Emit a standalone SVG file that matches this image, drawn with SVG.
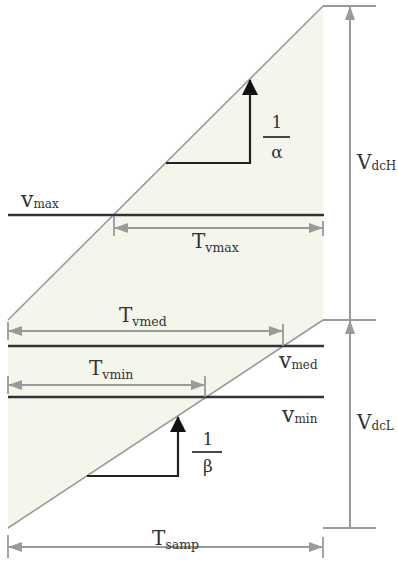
<svg xmlns="http://www.w3.org/2000/svg" width="398" height="561" viewBox="0 0 398 561">
<style>
.fill{fill:#f4f6ec;stroke:none}
.diag{stroke:#9a9a9a;stroke-width:1.6;fill:none}
.lvl{stroke:#333;stroke-width:2.6;fill:none}
.dim{stroke:#9a9a9a;stroke-width:2;fill:none}
.tick{stroke:#9a9a9a;stroke-width:1.8;fill:none}
.slope{stroke:#222;stroke-width:2.2;fill:none}
.fl{stroke:#333;stroke-width:1.8;fill:none}
text{font-family:"DejaVu Serif","Liberation Serif",serif;fill:#333}
.big{font-size:20px}
.vv{font-size:22px}
.sub{font-size:12.5px}
.vsub{font-size:12px}
.frac{font-size:17px}
</style>
<defs>
<marker id="ag" viewBox="0 0 14 10" refX="13" refY="5" markerWidth="14" markerHeight="10" markerUnits="userSpaceOnUse" orient="auto-start-reverse">
<path d="M0,0 L14,5 L0,10 z" fill="#9a9a9a"/>
</marker>
<marker id="ab" viewBox="0 0 16 16" refX="15" refY="8" markerWidth="16" markerHeight="16" markerUnits="userSpaceOnUse" orient="auto">
<path d="M0,0 L16,8 L0,16 z" fill="#111"/>
</marker>
</defs>
<g id="region">
<polygon class="fill" points="8,320 323,6 323,320 8,528"/>
<line class="diag" x1="8" y1="320" x2="323" y2="6"/>
<line class="diag" x1="8" y1="528" x2="323" y2="320"/>
</g>
<g id="levels">
<line class="lvl" x1="8" y1="215" x2="324" y2="215"/>
<line class="lvl" x1="8" y1="346" x2="324" y2="346"/>
<line class="lvl" x1="8" y1="397" x2="324" y2="397"/>
</g>
<g id="connectors">
<line class="tick" x1="114" y1="216" x2="114" y2="236"/>
<line class="tick" x1="323" y1="221" x2="323" y2="236"/>
<line class="dim" x1="115" y1="228" x2="322" y2="228" marker-start="url(#ag)" marker-end="url(#ag)"/>
<line class="tick" x1="8" y1="322" x2="8" y2="340"/>
<line class="tick" x1="283" y1="324" x2="283" y2="346"/>
<line class="dim" x1="9" y1="331" x2="282" y2="331" marker-start="url(#ag)" marker-end="url(#ag)"/>
<line class="tick" x1="8" y1="376" x2="8" y2="394"/>
<line class="tick" x1="205" y1="376" x2="205" y2="397"/>
<line class="dim" x1="9" y1="385" x2="204" y2="385" marker-start="url(#ag)" marker-end="url(#ag)"/>
<line class="tick" x1="8" y1="535" x2="8" y2="558"/>
<line class="tick" x1="323" y1="537" x2="323" y2="558"/>
<line class="dim" x1="9" y1="547" x2="322" y2="547" marker-start="url(#ag)" marker-end="url(#ag)"/>
<line class="tick" x1="323" y1="6" x2="376" y2="6"/>
<line class="tick" x1="323" y1="320" x2="376" y2="320"/>
<line class="tick" x1="323" y1="528" x2="376" y2="528"/>
<line class="dim" x1="350" y1="320" x2="350" y2="7" marker-end="url(#ag)"/>
<line class="dim" x1="350" y1="528" x2="350" y2="321" marker-end="url(#ag)"/>
<polyline class="slope" points="166,163 250,163 250,80" marker-end="url(#ab)"/>
<polyline class="slope" points="87,476 178,476 178,417" marker-end="url(#ab)"/>
<line class="fl" x1="263" y1="137" x2="290" y2="137"/>
<line class="fl" x1="192" y1="452" x2="222" y2="452"/>
</g>
<g id="labels">
<text x="21" y="207" class="vv">v<tspan class="vsub" dy="1">max</tspan></text>
<text x="192" y="248" class="big">T<tspan class="sub" dy="4">vmax</tspan></text>
<text x="119" y="322" class="big">T<tspan class="sub" dy="4">vmed</tspan></text>
<text x="89" y="375" class="big">T<tspan class="sub" dy="4">vmin</tspan></text>
<text x="152" y="545" class="big">T<tspan class="sub" dy="4">samp</tspan></text>
<text x="279" y="368" class="vv">v<tspan class="vsub" dy="1">med</tspan></text>
<text x="282" y="422" class="vv">v<tspan class="vsub" dy="1">min</tspan></text>
<text x="357" y="169" class="big">V<tspan class="vsub" dy="1">dcH</tspan></text>
<text x="357" y="429" class="big">V<tspan class="vsub" dy="1">dcL</tspan></text>
<text x="277" y="128" class="frac" text-anchor="middle">1</text>
<text x="277" y="158" class="frac" text-anchor="middle">α</text>
<text x="208" y="445" class="frac" text-anchor="middle">1</text>
<text x="208" y="472" class="frac" text-anchor="middle">β</text>
</g>
</svg>
